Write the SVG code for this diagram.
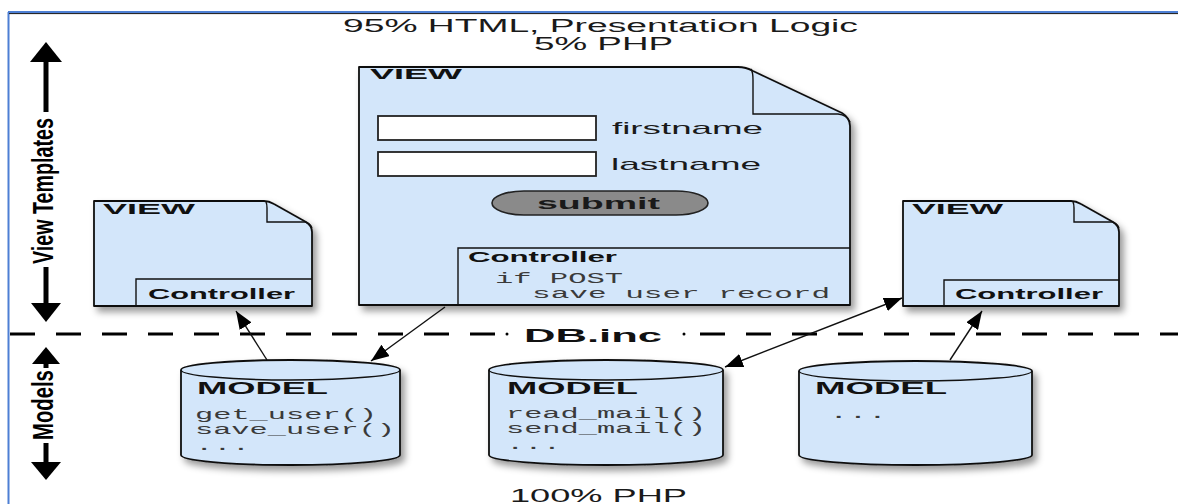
<svg xmlns="http://www.w3.org/2000/svg" width="1178" height="504" viewBox="0 0 1178 504">
<defs>
<style>
.shape{fill:#d3e6fa;stroke:#111;stroke-width:1.8;stroke-linejoin:round}
.inner{fill:none;stroke:#111;stroke-width:1.4}
.field{fill:#fff;stroke:#222;stroke-width:1.8}
.conn{fill:none;stroke:#111;stroke-width:1.4}
.sans{font-family:"Liberation Sans",Arial,sans-serif;fill:#1a1a1a}
.b{font-weight:bold;fill:#111}
.mono{font-family:"Liberation Mono","Courier New",monospace;fill:#3a3a3a;font-size:14px}
.axis{fill:none;stroke:#000;stroke-width:5}
.axhead{fill:#000}
.axtext{font-family:"Liberation Sans",Arial,sans-serif;font-weight:bold;font-size:29px;fill:#000}
</style>
<filter id="sh" x="-10%" y="-10%" width="130%" height="140%">
<feDropShadow dx="4" dy="5" stdDeviation="3.5" flood-color="#000" flood-opacity="0.4"/>
</filter>
<marker id="ah" markerUnits="userSpaceOnUse" markerWidth="20" markerHeight="14" refX="18" refY="7" orient="auto-start-reverse">
<path d="M0,0 L18,7 L0,14 Z" fill="#000"/>
</marker>
</defs>
<rect x="0" y="0" width="1178" height="504" fill="#fff"/>
<g id="frame">
<line x1="8.5" y1="12" x2="8.5" y2="504" stroke="#4d7fd4" stroke-width="2"/>
<line x1="8" y1="12" x2="1178" y2="12" stroke="#4d7fd4" stroke-width="2.2"/>
<line x1="9" y1="13.6" x2="1178" y2="13.6" stroke="#111" stroke-width="1"/>
</g>
<g id="titles">
<text class="sans" x="343" y="32" font-size="18" textLength="515" lengthAdjust="spacingAndGlyphs">95% HTML, Presentation Logic</text>
<text class="sans" x="534" y="50" font-size="18" textLength="139" lengthAdjust="spacingAndGlyphs">5% PHP</text>
<text class="sans" x="510" y="502" font-size="18" textLength="177" lengthAdjust="spacingAndGlyphs">100% PHP</text>
</g>
<g id="axis-labels">
<line class="axis" x1="46" y1="60" x2="46" y2="112"/>
<path class="axhead" d="M46,42 L62,62 L30,62 Z"/>
<text class="axtext" transform="translate(53,264) rotate(-90) scale(0.68,1)">View Templates</text>
<line class="axis" x1="46" y1="267" x2="46" y2="306"/>
<path class="axhead" d="M46,322 L61,303 L31,303 Z"/>
<path class="axhead" d="M46,347 L60,364 L32,364 Z"/>
<line class="axis" x1="46" y1="362" x2="46" y2="368"/>
<text class="axtext" transform="translate(53,440) rotate(-90) scale(0.7,1)">Models</text>
<line class="axis" x1="46" y1="443" x2="46" y2="465"/>
<path class="axhead" d="M46,480 L61,462 L31,462 Z"/>
</g>
<g id="divider">
<line x1="10" y1="334" x2="1178" y2="334" stroke="#000" stroke-width="3" stroke-dasharray="25 21"/>
<rect x="496" y="324" width="200" height="20" fill="#fff"/>
<circle cx="507" cy="334" r="1.5" fill="#000"/>
<circle cx="684" cy="334" r="1.5" fill="#000"/>
<text class="sans b" x="524" y="342" font-size="18" textLength="138" lengthAdjust="spacingAndGlyphs">DB.inc</text>
</g>
<g id="view-main">
<path class="shape" filter="url(#sh)" d="M359,67 H738 Q746,67 753,71 L842,113 Q850,118 850,126 V305 H359 Z"/>
<path class="inner" d="M751,69 Q753,72 753,80 V114 H838 Q847,115 850,122"/>
<text class="sans b" x="370" y="79" font-size="15" textLength="92" lengthAdjust="spacingAndGlyphs">VIEW</text>
<rect class="field" x="378" y="116" width="218" height="24"/>
<rect class="field" x="378" y="152" width="218" height="24"/>
<text class="sans" x="612" y="134" font-size="17" textLength="151" lengthAdjust="spacingAndGlyphs">firstname</text>
<text class="sans" x="611" y="170" font-size="17" textLength="150" lengthAdjust="spacingAndGlyphs">lastname</text>
<rect x="492" y="191" width="216" height="24" rx="32" ry="12" fill="#8a8a8a" stroke="#222" stroke-width="1.6"/>
<text class="sans" x="537" y="209" font-size="16" font-weight="bold" fill="#fff" textLength="123" lengthAdjust="spacingAndGlyphs">submit</text>
<path class="inner" d="M458,305 V248 H850"/>
<text class="sans b" x="468" y="262" font-size="14" textLength="149" lengthAdjust="spacingAndGlyphs">Controller</text>
<text class="mono" x="495" y="283" textLength="128" lengthAdjust="spacingAndGlyphs">if POST</text>
<text class="mono" x="532" y="298" textLength="298" lengthAdjust="spacingAndGlyphs">save user record</text>
</g>
<g id="view-left">
<path class="shape" filter="url(#sh)" d="M94,201 H264 Q269,201 274,204 L306,222 Q312,226 312,232 V306 H94 Z"/>
<path class="inner" d="M266,202 Q267,204 267,208 V222 H305 Q310,223 312,228"/>
<text class="sans b" x="103" y="214" font-size="15" textLength="92" lengthAdjust="spacingAndGlyphs">VIEW</text>
<path class="inner" d="M136,306 V279 H312"/>
<text class="sans b" x="148" y="299" font-size="14" textLength="147" lengthAdjust="spacingAndGlyphs">Controller</text>
</g>
<g id="view-right">
<path class="shape" filter="url(#sh)" d="M903,201 H1071 Q1076,201 1081,204 L1113,222 Q1119,226 1119,232 V306 H903 Z"/>
<path class="inner" d="M1073,202 Q1074,204 1074,208 V222 H1112 Q1117,223 1119,228"/>
<text class="sans b" x="912" y="214" font-size="15" textLength="91" lengthAdjust="spacingAndGlyphs">VIEW</text>
<path class="inner" d="M944,306 V280 H1119"/>
<text class="sans b" x="955" y="299" font-size="14" textLength="148" lengthAdjust="spacingAndGlyphs">Controller</text>
</g>
<g id="model-1">
<path class="shape" filter="url(#sh)" d="M181,370 A109.5,10 0 0 1 400,370 V455 A109.5,10 0 0 1 181,455 Z"/>
<path class="inner" d="M181,370 A109.5,10 0 0 0 400,370"/>
<text class="sans b" x="197" y="394" font-size="16" textLength="131" lengthAdjust="spacingAndGlyphs">MODEL</text>
<text class="mono" x="195" y="419" textLength="182" lengthAdjust="spacingAndGlyphs">get_user()</text>
<text class="mono" x="195" y="434" textLength="200" lengthAdjust="spacingAndGlyphs">save_user()</text>
<text class="mono" x="195" y="450" textLength="55" lengthAdjust="spacingAndGlyphs">...</text>
</g>
<g id="model-2">
<path class="shape" filter="url(#sh)" d="M489,370 A117,10 0 0 1 723,370 V455 A117,10 0 0 1 489,455 Z"/>
<path class="inner" d="M489,370 A117,10 0 0 0 723,370"/>
<text class="sans b" x="507" y="394" font-size="16" textLength="131" lengthAdjust="spacingAndGlyphs">MODEL</text>
<text class="mono" x="506" y="418" textLength="200" lengthAdjust="spacingAndGlyphs">read_mail()</text>
<text class="mono" x="506" y="433" textLength="200" lengthAdjust="spacingAndGlyphs">send_mail()</text>
<text class="mono" x="506" y="449" textLength="55" lengthAdjust="spacingAndGlyphs">...</text>
</g>
<g id="model-3">
<path class="shape" filter="url(#sh)" d="M799,371 A116.5,10 0 0 1 1032,371 V455 A116.5,10 0 0 1 799,455 Z"/>
<path class="inner" d="M799,371 A116.5,10 0 0 0 1032,371"/>
<text class="sans b" x="815" y="394" font-size="16" textLength="132" lengthAdjust="spacingAndGlyphs">MODEL</text>
<text class="mono" x="829" y="418" textLength="58" lengthAdjust="spacingAndGlyphs">...</text>
</g>
<g id="connectors">
<line class="conn" x1="267" y1="360" x2="236" y2="311" marker-end="url(#ah)"/>
<line class="conn" x1="445" y1="307" x2="371" y2="361" marker-end="url(#ah)"/>
<line class="conn" x1="725" y1="367" x2="902" y2="298" marker-start="url(#ah)" marker-end="url(#ah)"/>
<line class="conn" x1="950" y1="360" x2="982" y2="311" marker-end="url(#ah)"/>
</g>
</svg>
